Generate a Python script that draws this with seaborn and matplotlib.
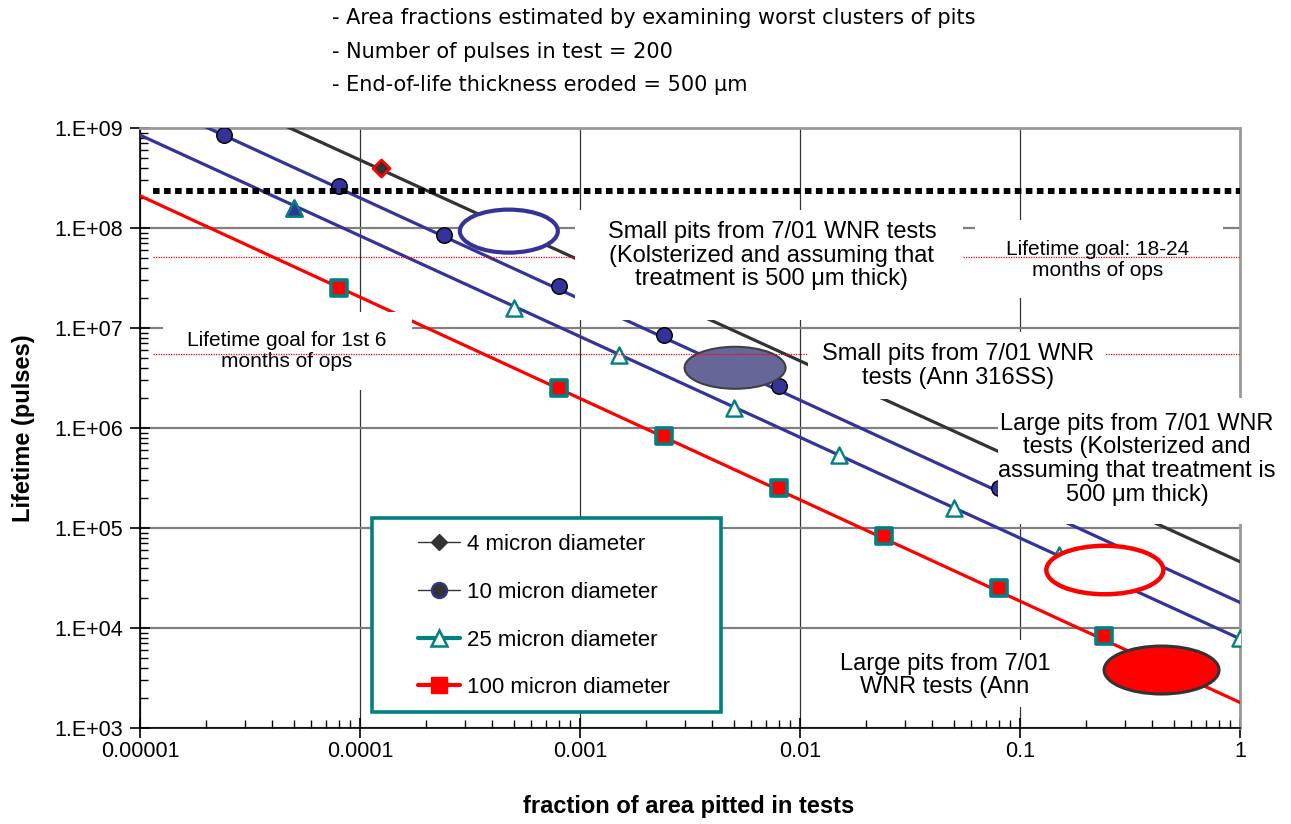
import numpy as np
import pandas as pd
import seaborn as sns
import matplotlib.pyplot as plt
import matplotlib.transforms as mtransforms
from matplotlib.patches import Ellipse, Rectangle
from matplotlib.lines import Line2D
from matplotlib.ticker import LogLocator, NullFormatter

# --- data ---
# trend lines (visible ends)
trend_x_4 = [4e-5, 1.0]
trend_y_4 = [1.2e9, 4.6e4]
trend_x_10 = [1.7e-5, 1.0]
trend_y_10 = [1.2e9, 1.8e4]
trend_x_25 = [1e-5, 1.0]
trend_y_25 = [8.5e8, 7.8e3]
trend_x_100 = [1e-5, 1.0]
trend_y_100 = [2.1e8, 1.8e3]

# plotted points
pts_x_4 = [1.25e-4]
pts_y_4 = [4.0e8]
pts_x_10 = [2.4e-5, 8e-5, 2.4e-4, 8e-4, 2.4e-3, 8e-3, 8e-2]
pts_y_10 = [8.6e8, 2.6e8, 8.5e7, 2.6e7, 8.5e6, 2.6e6, 2.5e5]
pts_x_25 = [5e-5, 5e-4, 1.5e-3, 5e-3, 1.5e-2, 5e-2, 1.5e-1, 1.0]
pts_y_25 = [1.6e8, 1.6e7, 5.4e6, 1.6e6, 5.4e5, 1.6e5, 5.4e4, 8e3]
pts_x_100 = [8e-5, 8e-4, 2.4e-3, 8e-3, 2.4e-2, 8e-2, 2.4e-1]
pts_y_100 = [2.5e7, 2.5e6, 8.4e5, 2.5e5, 8.4e4, 2.5e4, 8.4e3]

# goal lines
goal_x = [1.15e-5, 1.0]
goal_total = 2.35e8
goal_18_24 = 5.1e7
goal_first_6 = 5.5e6

series_labels = ['4 micron diameter', '10 micron diameter',
                 '25 micron diameter', '100 micron diameter']
x_ticks = [1e-5, 1e-4, 1e-3, 1e-2, 1e-1, 1]
x_tick_labels = ['0.00001', '0.0001', '0.001', '0.01', '0.1', '1']
y_ticks = [1e3, 1e4, 1e5, 1e6, 1e7, 1e8, 1e9]
y_tick_labels = ['1.E+03', '1.E+04', '1.E+05', '1.E+06', '1.E+07', '1.E+08', '1.E+09']

notes = ['- Area fractions estimated by examining worst clusters of pits',
         '- Number of pulses in test = 200',
         '- End-of-life thickness eroded = 500 \u03bcm']

BLUE = '#333399'
TEAL = '#008080'
DARK = '#333333'

sns.set_style('white')
plt.rcParams['font.family'] = ['Liberation Sans', 'DejaVu Sans']
plt.rcParams['text.color'] = 'black'
plt.rcParams['axes.labelcolor'] = 'black'

fig = plt.figure(figsize=(12.91, 8.24), dpi=100)
ax = fig.add_axes([0.1084, 0.1165, 0.8521, 0.7282])
ax.set_xscale('log')
ax.set_yscale('log')
ax.set_xlim(1e-5, 1)
ax.set_ylim(1e3, 1e9)

# trend lines
sns.lineplot(x=trend_x_4, y=trend_y_4, color=DARK, linewidth=2.3, ax=ax, zorder=3)
sns.lineplot(x=trend_x_10, y=trend_y_10, color=BLUE, linewidth=2.3, ax=ax, zorder=3)
sns.lineplot(x=trend_x_25, y=trend_y_25, color=BLUE, linewidth=2.3, ax=ax, zorder=3)
sns.lineplot(x=trend_x_100, y=trend_y_100, color='red', linewidth=2.3, ax=ax, zorder=3)

# points
sns.scatterplot(x=pts_x_10, y=pts_y_10, marker='o', s=125, color=BLUE,
                edgecolor='black', linewidth=1, ax=ax, zorder=4)
sns.scatterplot(x=pts_x_25, y=pts_y_25, marker='^', s=135, color='white',
                edgecolor=TEAL, linewidth=1.7, ax=ax, zorder=4)
sns.scatterplot(x=pts_x_25[:1], y=pts_y_25[:1], marker='^', s=135, color=BLUE,
                edgecolor=TEAL, linewidth=1.7, ax=ax, zorder=4)
sns.scatterplot(x=pts_x_100, y=pts_y_100, marker='s', s=140, color='red',
                edgecolor=TEAL, linewidth=2.6, ax=ax, zorder=4)
sns.scatterplot(x=pts_x_4, y=pts_y_4, marker='D', s=75, color=DARK,
                edgecolor='red', linewidth=2, ax=ax, zorder=4)

# goal lines
ax.hlines(goal_total, goal_x[0], goal_x[1], colors='black', linewidth=4.3,
          linestyles=(0, (1.1, 0.75)), zorder=4.8)
ax.hlines([goal_18_24, goal_first_6], goal_x[0], goal_x[1], colors='red',
          linewidth=0.9, linestyles=(0, (1, 1)), zorder=5.5)

# ellipses: centre (data), size in inches
ellipses = [
    ((4.75e-4, 9.3e7), 0.98, 0.43, 'white', BLUE, 3.0),
    ((5.07e-3, 4.0e6), 1.01, 0.42, '#666699', '#404040', 1.5),
    ((0.243, 3.8e4), 1.17, 0.485, 'white', 'red', 3.2),
    ((0.44, 3.8e3), 1.15, 0.48, 'red', DARK, 2.2),
]
for (xc, yc), w, h, fc, ec, lw in ellipses:
    tr = fig.dpi_scale_trans + mtransforms.ScaledTranslation(xc, yc, ax.transData)
    ax.add_patch(Ellipse((0, 0), w, h, transform=tr, facecolor=fc,
                         edgecolor=ec, linewidth=lw, zorder=4.5))

# text boxes (axes fractions: x0, y0, x1, y1)
boxes = [
    ((0.3955, 0.680, 0.748, 0.8633), 6),
    ((0.759, 0.7167, 0.9845, 0.8467), 5),
    ((0.0209, 0.5633, 0.2473, 0.6933), 5),
    ((0.6073, 0.5483, 0.8773, 0.660), 6),
    ((0.780, 0.340, 1.029, 0.550), 6),
    ((0.6455, 0.035, 0.8182, 0.1467), 6),
]
for (x0, y0, x1, y1), z in boxes:
    ax.add_patch(Rectangle((x0, y0), x1 - x0, y1 - y0, transform=ax.transAxes,
                           facecolor='white', edgecolor='none', zorder=z,
                           clip_on=False))

texts = [
    (0.5745, 0.787, 'Small pits from 7/01 WNR tests\n(Kolsterized and assuming that\n'
                    'treatment is 500 \u03bcm thick)', 17),
    (0.871, 0.780, 'Lifetime goal: 18-24\nmonths of ops', 15),
    (0.1336, 0.628, 'Lifetime goal for 1st 6\nmonths of ops', 15),
    (0.7436, 0.6033, 'Small pits from 7/01 WNR\ntests (Ann 316SS)', 17),
    (0.9064, 0.448, 'Large pits from 7/01 WNR\ntests (Kolsterized and\n'
                    'assuming that treatment is\n500 \u03bcm thick)', 17),
    (0.7318, 0.0875, 'Large pits from 7/01\nWNR tests (Ann', 17),
]
for x, y, s, fs in texts:
    ax.text(x, y, s, transform=ax.transAxes, ha='center', va='center',
            fontsize=fs, linespacing=1.1, zorder=7, clip_on=False)

# legend with its own box
ax.add_patch(Rectangle((0.2109, 0.0267), 0.3173, 0.3233, transform=ax.transAxes,
                       facecolor='white', edgecolor=TEAL, linewidth=2.6, zorder=8))
handles = [
    Line2D([], [], color=DARK, lw=1, marker='D', ms=8.5, mfc=DARK, mec=DARK),
    Line2D([], [], color=DARK, lw=1, marker='o', ms=11, mfc=DARK, mec=BLUE, mew=1.5),
    Line2D([], [], color=TEAL, lw=3, marker='^', ms=11, mfc='white', mec=TEAL, mew=1.8),
    Line2D([], [], color='red', lw=3, marker='s', ms=11, mfc='red', mec='red'),
]
leg = ax.legend(handles, series_labels, loc='upper left', bbox_to_anchor=(0.2527, 0.323),
                frameon=False, fontsize=16, borderpad=0, borderaxespad=0,
                handlelength=1.9, handletextpad=0.32, labelspacing=1.2)
leg.set_zorder(9)

# ticks and grid
ax.set_xticks(x_ticks, labels=x_tick_labels)
ax.set_yticks(y_ticks, labels=y_tick_labels)
for axis in (ax.xaxis, ax.yaxis):
    axis.set_minor_locator(LogLocator(base=10, subs=np.arange(2, 10)))
    axis.set_minor_formatter(NullFormatter())
ax.tick_params(which='major', direction='inout', length=14, width=1.2,
               labelsize=15.5, colors='black')
ax.tick_params(axis='x', which='major', pad=2)
ax.tick_params(axis='y', which='major', pad=5)
ax.tick_params(which='minor', direction='in', length=6, width=1, colors='black')
ax.tick_params(which='both', bottom=True, left=True, top=False, right=False)
ax.set_axisbelow(True)
ax.grid(axis='y', which='major', color='#808080', linewidth=1.6)
ax.grid(axis='x', which='major', color='#333333', linewidth=0.9)

for side in ('left', 'bottom'):
    ax.spines[side].set_color('black')
    ax.spines[side].set_linewidth(1.2)
for side in ('top', 'right'):
    ax.spines[side].set_color('#999999')
    ax.spines[side].set_linewidth(2)

ax.set_xlabel('fraction of area pitted in tests', fontsize=17, fontweight='bold')
ax.xaxis.set_label_coords(0.499, -0.13)
ax.xaxis.label.set_va('center')
ax.set_ylabel('Lifetime (pulses)', fontsize=17, fontweight='bold')
ax.yaxis.set_label_coords(-0.106, 0.5)
ax.yaxis.label.set_va('center')

for i, line in enumerate(notes):
    fig.text(0.257, 0.978 - i * 0.0405, line, fontsize=15, family='DejaVu Sans',
             va='center', ha='left')

fig.savefig('out.png', dpi=100)
